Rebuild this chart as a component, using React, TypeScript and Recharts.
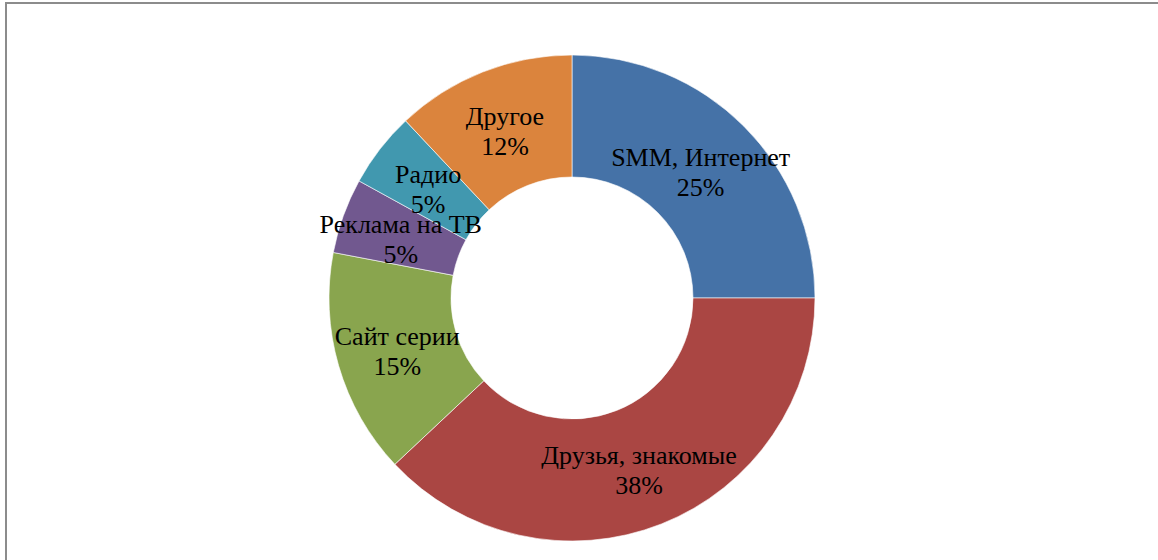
import React from "react";
import { PieChart, Pie, Cell } from "recharts";

const categories = ["SMM, Интернет", "Друзья, знакомые", "Сайт серии", "Реклама на ТВ", "Радио", "Другое"];
const values = [25, 38, 15, 5, 5, 12];
const colors = ["#4572A7", "#AA4643", "#89A54E", "#71588F", "#4198AF", "#DB843D"];

const data = categories.map((name, i) => ({ name, value: values[i] }));

const RADIAN = Math.PI / 180;

const renderLabel = (props: any) => {
  const { cx, cy, midAngle, innerRadius, outerRadius, name, value } = props;
  const r = (innerRadius + outerRadius) / 2;
  const x = cx + r * Math.cos(-midAngle * RADIAN);
  const y = cy + r * Math.sin(-midAngle * RADIAN);
  return (
    <text
      x={x}
      y={y}
      textAnchor="middle"
      fill="#000"
      fontFamily="'Liberation Serif', 'Times New Roman', serif"
      fontSize={26}
    >
      <tspan x={x} y={y - 12} dominantBaseline="central">{name}</tspan>
      <tspan x={x} y={y + 18} dominantBaseline="central">{value}%</tspan>
    </text>
  );
};

export default function App() {
  return (
    <div style={{ position: "absolute", left: 0, top: 0, width: 1158, height: 560, overflow: "hidden", background: "#fff" }}>
      <div
        style={{
          position: "absolute",
          left: 5,
          top: 2,
          width: 1200,
          height: 700,
          border: "2px solid #8c8c8c",
          boxSizing: "border-box",
        }}
      />
      <div style={{ position: "absolute", left: 0, top: 0 }}>
        <PieChart width={1158} height={560} margin={{ top: 0, right: 0, bottom: 0, left: 0 }}>
          <Pie
            data={data}
            dataKey="value"
            nameKey="name"
            cx={572}
            cy={298}
            innerRadius={121}
            outerRadius={243}
            startAngle={90}
            endAngle={-270}
            stroke="#ffffff"
            strokeWidth={0.6}
            label={renderLabel}
            labelLine={false}
            isAnimationActive={false}
          >
            {data.map((d, i) => (
              <Cell key={d.name} fill={colors[i]} />
            ))}
          </Pie>
        </PieChart>
      </div>
    </div>
  );
}
